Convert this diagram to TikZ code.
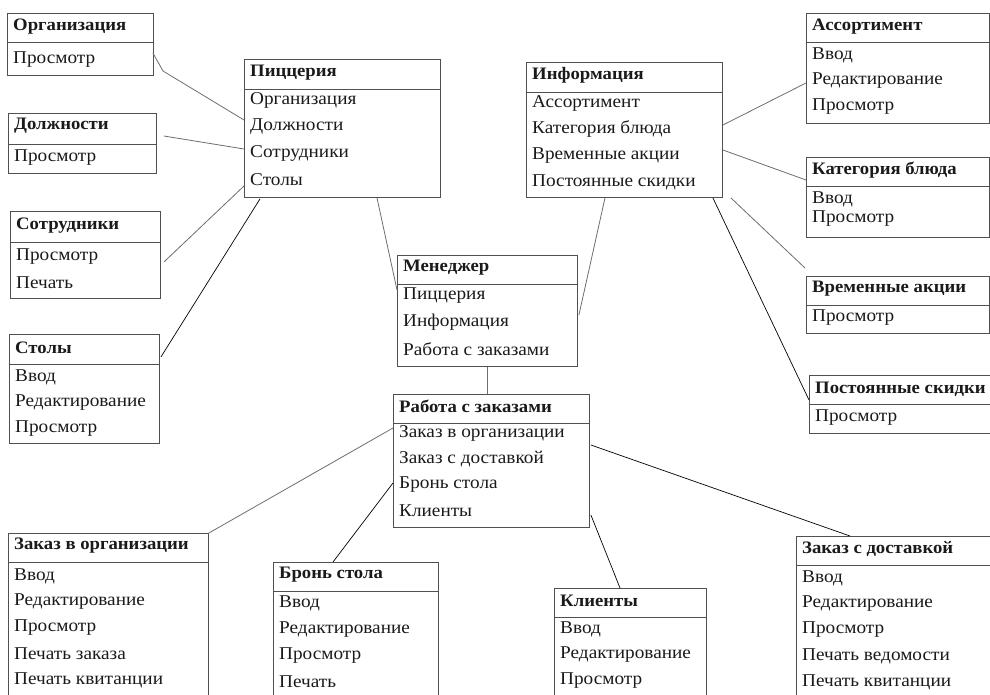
\documentclass[tikz,border=0pt]{standalone}
\usepackage{fontspec}
\setmainfont[FakeStretch=1.07]{Liberation Serif}
\usetikzlibrary{calc}
\definecolor{boxc}{HTML}{505050}
\definecolor{linec}{HTML}{6E6E6E}
\definecolor{txtc}{HTML}{1A1A1A}
\tikzset{
  ubox/.style={draw=boxc, line width=0.9pt, rectangle, inner sep=0pt, anchor=north west},
  udiv/.style={draw=boxc, line width=0.9pt},
  utitle/.style={font=\fontsize{17.5}{19}\selectfont\bfseries, text=txtc, inner sep=0pt, anchor=west},
  uitem/.style={font=\fontsize{18}{20}\selectfont, text=txtc, inner sep=0pt, anchor=west},
  conn/.style={draw=linec, line width=0.8pt},
  connk/.style={draw=black, line width=0.7pt},
}
% name, x1, y1, x2, y2, ydiv, title, ytitle, items
\newcommand\umlbox[9]{%
  \node[ubox, minimum width={#4-#2}, minimum height={#5-#3}] (#1) at (#2,#3) {};
  \draw[udiv] (#2,#6) -- (#4,#6);
  \node[utitle] (#1-t) at ({#2+6},#8) {#7};
  \foreach \yy/\itm [count=\ii] in {#9} {\node[uitem] (#1-\ii) at ({#2+6},\yy) {\itm};}
}
\begin{document}
\begin{tikzpicture}[x=1pt,y=-1pt]
\useasboundingbox[fill=white] (0,0) rectangle (990,695);
\clip (0,0) rectangle (990,695);
\umlbox{org}{7}{13}{153}{75}{42}{Организация}{27}{60/Просмотр}
\umlbox{dol}{8}{113}{156}{173}{144}{Должности}{126}{158/Просмотр}
\umlbox{sot}{10}{211}{160}{298}{242}{Сотрудники}{226}{257/Просмотр,283/Печать}
\umlbox{stol}{9}{334}{159}{443}{364}{Столы}{348}{377/Ввод,403/Редактирование,429/Просмотр}
\umlbox{piz}{244}{59}{440}{197}{89}{Пиццерия}{73}{100/Организация,127/Должности,153/Сотрудники,180/Столы}
\umlbox{inf}{526}{62}{722}{197}{92}{Информация}{75}{103/Ассортимент,129/Категория блюда,156/Временные акции,182/Постоянные скидки}
\umlbox{man}{397}{255}{577}{366}{284}{Менеджер}{268}{296/Пиццерия,322/Информация,349/Работа с заказами}
\umlbox{rab}{393}{394}{589}{527}{423}{Работа с заказами}{406}{433/Заказ в организации,459/Заказ с доставкой,485/Бронь стола,511/Клиенты}
\umlbox{asr}{806}{13}{989}{123}{42}{Ассортимент}{27}{55/Ввод,81/Редактирование,107/Просмотр}
\umlbox{kat}{806}{157}{989}{237}{186}{Категория блюда}{170}{199/Ввод,219/Просмотр}
\umlbox{vr}{806}{276}{989}{333}{305}{Временные акции}{289}{318/Просмотр}
\umlbox{pos}{809}{375}{992}{433}{404}{Постоянные скидки}{389}{418/Просмотр}
\umlbox{zo}{8}{533}{208}{700}{562}{Заказ в организации}{546}{576/Ввод,602/Редактирование,628/Просмотр,654/Печать заказа,680/Печать квитанции}
\umlbox{br}{273}{562}{438}{700}{591}{Бронь стола}{575}{603/Ввод,630/Редактирование,656/Просмотр,682/Печать}
\umlbox{kl}{554}{588}{706}{700}{617}{Клиенты}{601}{629/Ввод,655/Редактирование,681/Просмотр}
\umlbox{zd}{796}{536}{992}{700}{565}{Заказ с доставкой}{549}{578/Ввод,604/Редактирование,630/Просмотр,656/Печать ведомости,682/Печать квитанции}
% connectors
\coordinate (orgK) at (163,71);
\draw[conn] ($(org.north east)+(-1,40)$) -- (orgK) -- ($(piz.north west)+(0,61)$);
\draw[conn] ($(dol.north east)+(7,23)$) -- ($(piz.north west)+(0,90)$);
\draw[conn] ($(sot.north east)+(3,51)$) -- ($(piz.north west)+(0,127)$);
\draw[connk] ($(stol.north east)+(1,23)$) -- ($(piz.south west)+(16,1)$);
\draw[conn] ($(piz.south west)+(133,0)$) -- ($(man.north west)+(0,35)$);
\draw[conn] ($(inf.south west)+(79,0)$) -- ($(man.north east)+(1,60)$);
\draw[conn] ($(man.south west)+(90,0)$) -- ($(rab.north west)+(94,0)$);
\draw[conn] ($(inf.north east)+(0,63)$) -- ($(asr.north west)+(0,70)$);
\draw[conn] ($(inf.north east)+(0,88)$) -- ($(kat.north west)+(0,23)$);
\draw[conn] ($(inf.south east)+(8,0)$) -- ($(vr.north west)+(-1,-8)$);
\draw[connk] ($(inf.south east)+(-10,0)$) -- ($(pos.north west)+(0,25)$);
\draw[conn] ($(rab.north west)+(0,34)$) -- (zo.north east);
\draw[connk] ($(rab.north west)+(0,89)$) -- ($(br.north west)+(60,0)$);
\draw[connk] ($(rab.north east)+(1,121)$) -- ($(kl.north west)+(66,0)$);
\draw[connk] ($(rab.north east)+(1,51)$) -- ($(zd.north west)+(54,0)$);
\end{tikzpicture}
\end{document}
